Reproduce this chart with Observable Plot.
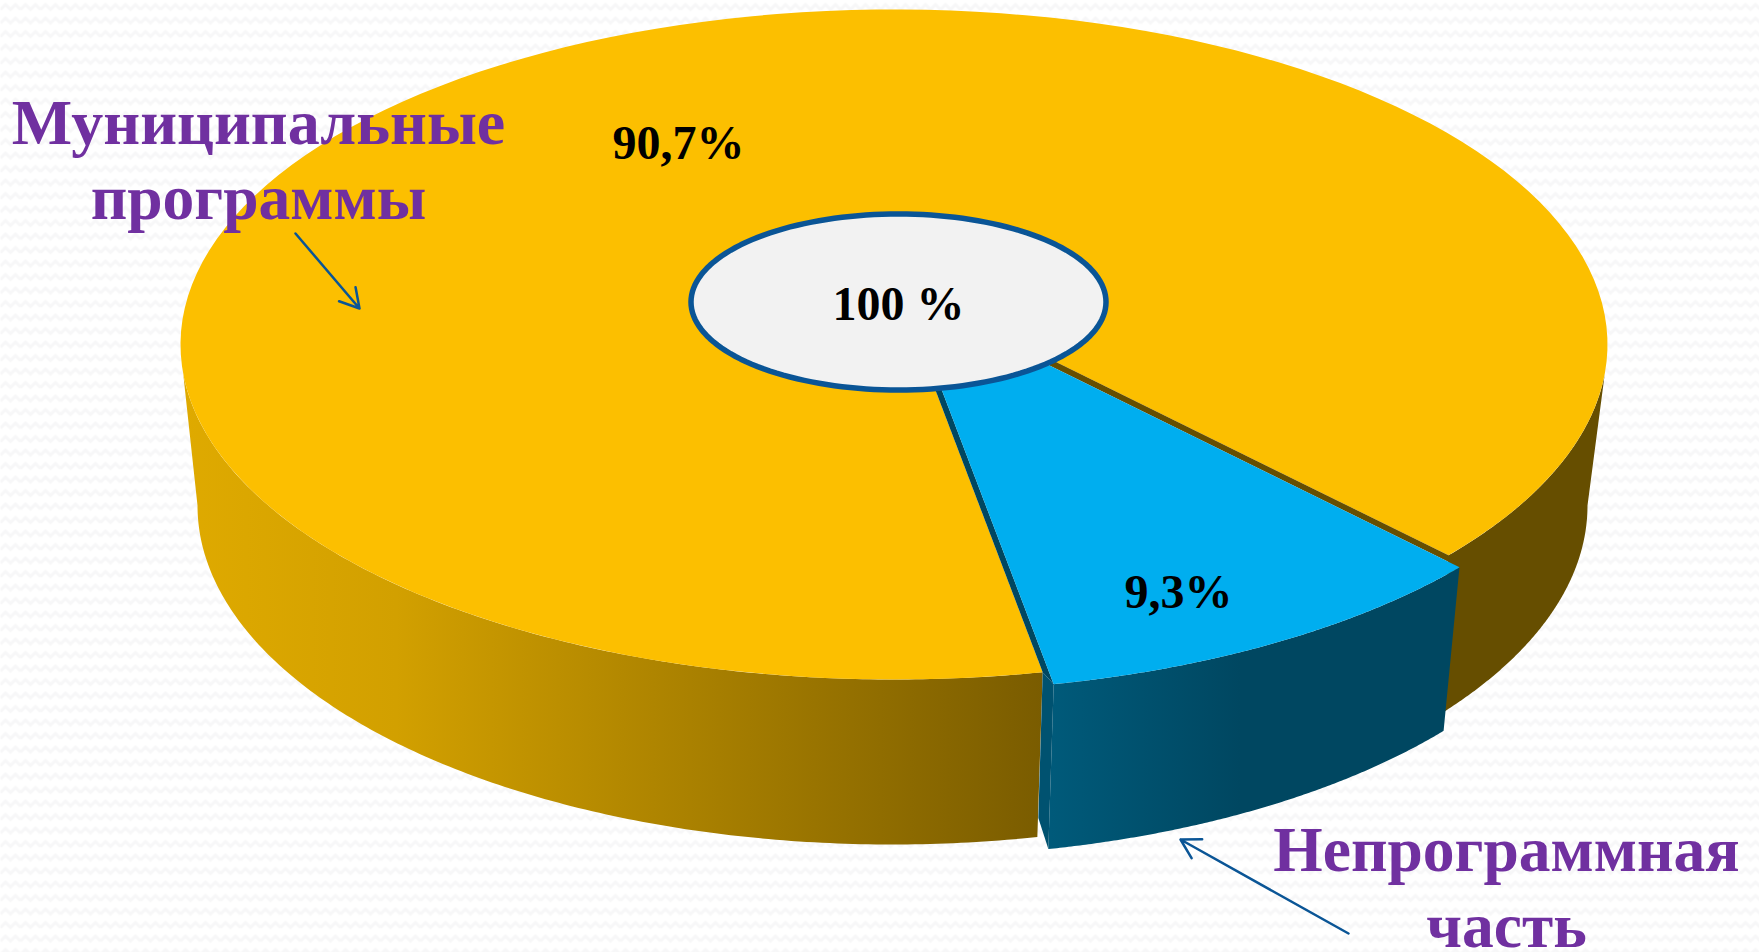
<!DOCTYPE html>
<html><head><meta charset="utf-8">
<script src="https://cdn.jsdelivr.net/npm/d3@7"></script>
<script src="https://cdn.jsdelivr.net/npm/@observablehq/plot@0.6"></script>
<style>html,body{margin:0;padding:0;background:#fff;overflow:hidden}</style></head>
<body><div id="c"></div>
<script>
const categories = ["Муниципальные программы", "Непрограммная часть"];
const shares = [90.7, 9.3];
const shareLabels = ["90,7%", "9,3%"];
const totalLabel = "100 %";
const W = 1759, H = 952;
const topE = {cx: 893.5, cy: 344, a: 713.5, b: 335};
const botE = {cx: 892, cy: 505, a: 695, b: 339};
const holeE = {cx: 898, cy: 301.5, a: 207.5, b: 88};
const hub = {x: 894, y: 282};
const off = {x: 11, y: 12};
const rad = d => d * Math.PI / 180;
const perspective = 1.164; // the tilted view widens the front slice
const blueStart = 39, blueEnd = blueStart + shares[1] * 3.6 * perspective;
const pt = (e, t, o = {x:0,y:0}) => ({x: e.cx + e.a * Math.cos(rad(t)) + o.x, y: e.cy + e.b * Math.sin(rad(t)) + o.y});
const arc = (e, t0, t1, o) => { const n = 160, r = []; for (let i = 0; i <= n; i++) r.push(pt(e, t0 + (t1 - t0) * i / n, o)); return r; };
const blueHub = {x: hub.x + off.x, y: hub.y + off.y};
const goldTop = [...arc(topE, blueEnd, blueStart + 360), hub];
const blueTop = [...arc(topE, blueStart, blueEnd, off), blueHub];
const stripLeft = [hub, pt(topE, blueEnd), pt(topE, blueEnd, off), blueHub];
const stripRight = [hub, pt(topE, blueStart), pt(topE, blueStart, off), blueHub];
const blueSide = [...arc(topE, blueStart, blueEnd, off), ...arc(botE, blueEnd, blueStart, off)];
const goldSide = [...arc(topE, blueEnd, 175), ...arc(botE, 180, blueEnd)];
const goldSideR = [...arc(topE, 5, blueStart), ...arc(botE, blueStart, 0)];
const wall = [pt(topE, blueEnd), pt(topE, blueEnd, off), pt(botE, blueEnd, off), pt(botE, blueEnd, {x:1, y:-19})];
const defs = () => {
  const d = d3.create("svg:defs");
  const g = d.append("linearGradient").attr("id","gold").attr("gradientUnits","userSpaceOnUse")
    .attr("x1",180).attr("x2",1042).attr("y1",0).attr("y2",0);
  [["0","#dfaa00"],["0.25","#d2a000"],["1","#7a5c00"]].forEach(([o,c]) => g.append("stop").attr("offset",o).attr("stop-color",c));
  const b = d.append("linearGradient").attr("id","blue").attr("gradientUnits","userSpaceOnUse")
    .attr("x1",1050).attr("x2",1240).attr("y1",0).attr("y2",0);
  [["0","#005a7a"],["1","#004761"]].forEach(([o,c]) => b.append("stop").attr("offset",o).attr("stop-color",c));
  const p = d.append("pattern").attr("id","wave").attr("patternUnits","userSpaceOnUse").attr("width",20).attr("height",13.5);
  p.append("rect").attr("width",20).attr("height",13.5).attr("fill","#ffffff");
  p.append("path").attr("d","M0,9 L5,4 L10,9 L15,4 L20,9").attr("fill","none").attr("stroke","#f7f7f8").attr("stroke-width",3);
  return d.node();
};
const poly = (data, o) => Plot.line(data, {x:"x", y:"y", curve:"linear", stroke:"none", ...o});
const font = "'Liberation Serif', serif";
const label = (t, x, y, fontSize, fill) => Plot.text([t], {x:[x], y:[y], text:d=>d, fontSize, fontWeight:"bold", fontFamily:font, fill, lineAnchor:"bottom"});
const chart = Plot.plot({
  width: W, height: H, margin: 0,
  x: {domain:[0,W], range:[0,W], axis:null},
  y: {domain:[0,H], range:[0,H], axis:null},
  style: {background:"#fff"},
  marks: [
    defs,
    Plot.frame({fill:"url(#wave)"}),
    poly(goldSide, {fill:"url(#gold)"}),
    poly(goldSideR, {fill:"#664e00"}),
    poly(goldTop, {fill:"#fcbf00"}),
    poly(stripRight, {fill:"#664e00"}),
    poly(stripLeft, {fill:"#004761"}),
    poly(blueSide, {fill:"url(#blue)"}),
    poly(wall, {fill:"#005270"}),
    poly(blueTop, {fill:"#00aeef"}),
    poly(arc(holeE, 0, 360), {fill:"#f2f2f2", stroke:"#0a5596", strokeWidth:5.5}),
    label(shareLabels[0], 678, 158, 48, "#000"),
    label(shareLabels[1], 1178, 607, 48, "#000"),
    label(totalLabel, 898, 319, 48, "#000"),
    label("Муниципальные", 258, 143, 64, "#7030a0"),
    label("программы", 258, 218, 63.5, "#7030a0"),
    label("Непрограммная", 1506, 870, 63.5, "#7030a0"),
    label("часть", 1506, 946, 63.5, "#7030a0"),
    Plot.arrow([{x1:295,y1:233,x2:359,y2:308},{x1:1348,y1:933,x2:1180,y2:839}], {x1:"x1",y1:"y1",x2:"x2",y2:"y2", stroke:"#0a5596", strokeWidth:2.5, headLength:13, bend:0})
  ]
});
document.getElementById("c").append(chart);
</script></body></html>
